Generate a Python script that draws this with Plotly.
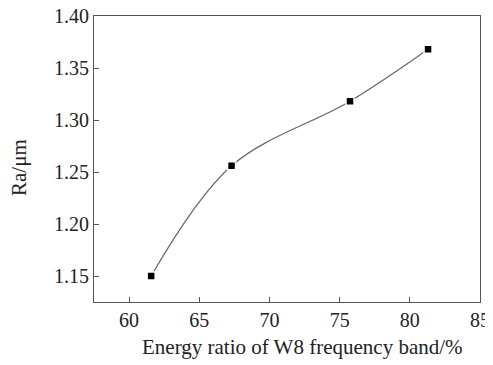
import plotly.graph_objects as go

energy_ratio = [61.57, 67.3, 75.74, 81.3]
ra_values = [1.150, 1.256, 1.318, 1.368]
x_ticks = [60, 65, 70, 75, 80, 85]
y_ticks = [1.15, 1.20, 1.25, 1.30, 1.35, 1.40]

fig = go.Figure()
fig.add_trace(go.Scatter(
    x=energy_ratio, y=ra_values, mode="lines+markers",
    line=dict(color="#666666", width=1.2, shape="spline", smoothing=1.0),
    marker=dict(symbol="square", size=8, color="black", line=dict(color="white", width=1.5)),
    showlegend=False,
))

font = dict(family="Liberation Serif, Times New Roman, serif", size=20, color="#222222")
title_font = dict(family="Liberation Serif, Times New Roman, serif", size=21, color="#222222")
axis_common = dict(
    showgrid=False, zeroline=False, showline=True, linecolor="#555555", linewidth=1.2,
    mirror=True, ticks="inside", ticklen=5, tickcolor="#555555", tickwidth=1.2,
    tickfont=font, automargin=False, ticklabeloverflow="allow",
)
# page body has an 8px default margin, so the figure is 8px smaller and margins shifted
fig.update_layout(
    width=485, height=357,
    margin=dict(l=86, r=13, t=8, b=63),
    paper_bgcolor="white", plot_bgcolor="white",
    font=font,
    xaxis=dict(range=[57.5, 85], tickvals=x_ticks, ticktext=[str(v) for v in x_ticks],
               **axis_common),
    yaxis=dict(range=[1.125, 1.40], tickvals=y_ticks, ticktext=[f"{v:.2f}" for v in y_ticks],
               **axis_common),
    annotations=[
        dict(text="Energy ratio of W8 frequency band/%", xref="paper", yref="paper",
             x=(302.5 - 94) / 386, y=-(347 - 302) / 286, xanchor="center", yanchor="middle",
             showarrow=False, font=title_font),
        dict(text="Ra/μm", xref="paper", yref="paper",
             x=-(94 - 19) / 386, y=(302 - 168) / 286, xanchor="center", yanchor="middle",
             textangle=-90, showarrow=False, font=title_font),
    ],
)
fig.write_html("out.html")
